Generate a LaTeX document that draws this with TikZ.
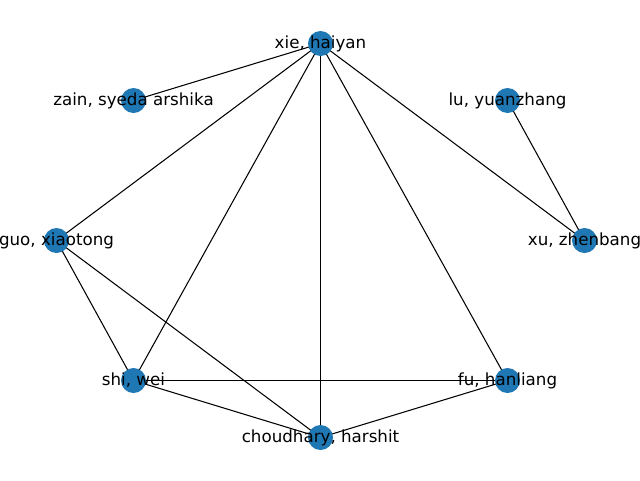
\documentclass[tikz,border=0pt]{standalone}
\usepackage{fontspec}
\setmainfont{DejaVu Sans}
\usetikzlibrary{backgrounds}
\definecolor{nodeblue}{HTML}{1F77B4}
\tikzset{
    person/.style={circle, fill=nodeblue, inner sep=0pt, minimum size=0.5cm},
    tie/.style={black, line width=0.6pt}
}
\begin{document}
\begin{tikzpicture}
    \useasboundingbox (0,0) rectangle (12.8,9.6);

    \node[person, label={[font=\fontsize{9.5}{11}\selectfont]center:{xie, haiyan}}] (xie) at (6.41, 8.73) {};
    \node[person, label={[font=\fontsize{9.5}{11}\selectfont]center:{zain, syeda arshika}}] (zain) at (2.67, 7.59) {};
    \node[person, label={[font=\fontsize{9.5}{11}\selectfont]center:{lu, yuanzhang}}] (lu) at (10.15, 7.59) {};
    \node[person, label={[font=\fontsize{9.5}{11}\selectfont]center:{guo, xiaotong}}] (guo) at (1.13, 4.79) {};
    \node[person, label={[font=\fontsize{9.5}{11}\selectfont]center:{xu, zhenbang}}] (xu) at (11.69, 4.79) {};
    \node[person, label={[font=\fontsize{9.5}{11}\selectfont]center:{shi, wei}}] (shi) at (2.67, 1.99) {};
    \node[person, label={[font=\fontsize{9.5}{11}\selectfont]center:{fu, hanliang}}] (fu) at (10.15, 1.99) {};
    \node[person, label={[font=\fontsize{9.5}{11}\selectfont]center:{choudhary, harshit}}] (chou) at (6.41, 0.85) {};

    \begin{pgfonlayer}{background}
        \draw[tie] (xie.center) -- (zain.center);
        \draw[tie] (xie.center) -- (guo.center);
        \draw[tie] (xie.center) -- (shi.center);
        \draw[tie] (xie.center) -- (chou.center);
        \draw[tie] (xie.center) -- (fu.center);
        \draw[tie] (xie.center) -- (xu.center);
        \draw[tie] (lu.center) -- (xu.center);
        \draw[tie] (guo.center) -- (shi.center);
        \draw[tie] (guo.center) -- (chou.center);
        \draw[tie] (shi.center) -- (fu.center);
        \draw[tie] (shi.center) -- (chou.center);
        \draw[tie] (chou.center) -- (fu.center);
    \end{pgfonlayer}

\end{tikzpicture}
\end{document}
